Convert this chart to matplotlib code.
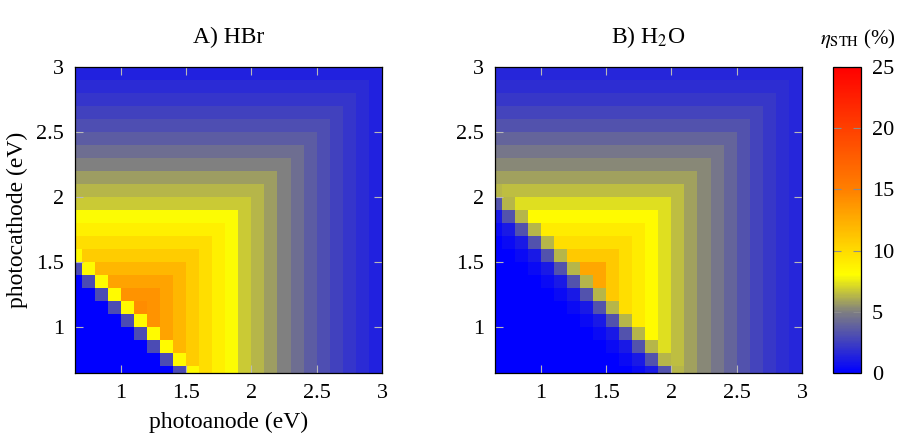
import numpy as np
import matplotlib
matplotlib.use("Agg")
import matplotlib.pyplot as plt
from matplotlib.colors import LinearSegmentedColormap, Normalize

# ---------------- data ----------------
# band-gap cell centres (eV), same for photoanode (x) and photocathode (y)
gap_ev = [0.65, 0.75, 0.85, 0.95, 1.05, 1.15, 1.25, 1.35, 1.45, 1.55, 1.65, 1.75,
          1.85, 1.95, 2.05, 2.15, 2.25, 2.35, 2.45, 2.55, 2.65, 2.75, 2.85, 2.95]

nan = np.nan
# STH efficiency (%) as a function of the larger of the two band gaps
hbr_eff_by_larger_gap = [nan, nan, nan, nan, nan, 14.3, 13.9, 13.0, 12.0, 10.8, 9.8, 8.8,
                         8.0, 6.8, 6.3, 5.7, 5.0, 4.3, 3.7, 3.1, 2.6, 2.1, 1.7, 1.3]
h2o_eff_by_larger_gap = [nan, nan, nan, nan, nan, nan, nan, nan, 12.8, 11.0, 9.8, 9.0,
                         8.3, 7.3, 6.5, 5.8, 5.2, 4.6, 4.0, 3.3, 2.7, 2.2, 1.8, 1.5]

# efficiency (%) close to the voltage threshold, by total band gap (eV)
hbr_threshold_total_gap = [2.1, 2.2]
hbr_threshold_eff = [3.0, 8.3]
hbr_full_from_total_gap = 2.3
h2o_threshold_total_gap = [2.4, 2.5, 2.6, 2.7]
h2o_threshold_eff = [0.4, 1.0, 3.3, 6.3]
h2o_full_from_total_gap = 2.8

tick_values = [1, 1.5, 2, 2.5, 3]
tick_labels = ["1", "1.5", "2", "2.5", "3"]
cbar_ticks = [0, 5, 10, 15, 20, 25]
cbar_labels = ["0", "5", "10", "15", "20", "25"]


def build_matrix(profile, thr_gaps, thr_effs, full_from):
    n = len(gap_ev)
    z = np.zeros((n, n))
    lookup = {round(g, 2): e for g, e in zip(thr_gaps, thr_effs)}
    for j, cath in enumerate(gap_ev):
        for i, anode in enumerate(gap_ev):
            total = round(anode + cath, 2)
            if total >= full_from - 1e-9:
                z[j, i] = profile[max(i, j)]
            else:
                z[j, i] = lookup.get(total, 0.0)
    return z


z_hbr = build_matrix(hbr_eff_by_larger_gap, hbr_threshold_total_gap,
                     hbr_threshold_eff, hbr_full_from_total_gap)
z_h2o = build_matrix(h2o_eff_by_larger_gap, h2o_threshold_total_gap,
                     h2o_threshold_eff, h2o_full_from_total_gap)

# ---------------- style ----------------
plt.rcParams["font.family"] = ["Liberation Serif", "DejaVu Serif"]
plt.rcParams["mathtext.fontset"] = "stix"

cmap = LinearSegmentedColormap.from_list(
    "sth", [(0.0, (0, 0, 1)), (5 / 25, (0.5, 0.5, 0.5)), (8 / 25, (1, 1, 0)),
            (15 / 25, (1, 0.5, 0)), (1.0, (1, 0, 0))])
norm = Normalize(vmin=0, vmax=25)

W, H = 902, 434
fig = plt.figure(figsize=(W / 100, H / 100), dpi=100)


def px_axes(x0, x1, y0, y1):
    return fig.add_axes([x0 / W, 1 - y1 / H, (x1 - x0) / W, (y1 - y0) / H])


ax_a = px_axes(75, 382, 67, 373)
ax_b = px_axes(495, 802, 67, 373)
cax = px_axes(833, 861, 67, 373)

mesh = None
for ax, z in [(ax_a, z_hbr), (ax_b, z_h2o)]:
    mesh = ax.pcolormesh(gap_ev, gap_ev, z, cmap=cmap, norm=norm,
                         shading="nearest", rasterized=True)
    ax.set_xlim(0.65, 3.0)
    ax.set_ylim(0.65, 3.0)
    ax.set_xticks(tick_values)
    ax.set_xticklabels(tick_labels)
    ax.set_yticks(tick_values)
    ax.set_yticklabels(tick_labels)
    ax.tick_params(direction="in", length=6, width=0.8, color="0.72",
                   top=True, right=True, labelsize=16, pad=8)
    for sp in ax.spines.values():
        sp.set_linewidth(0.9)
        sp.set_zorder(5)

ax_a.set_xlabel("photoanode (eV)", fontsize=17, labelpad=6)
ax_a.set_ylabel("photocathode (eV)", fontsize=17, labelpad=6)

fig.text(228.5 / W, 1 - 43 / H, "A) HBr", ha="center", va="baseline", fontsize=17)
fig.text(648.5 / W, 1 - 43 / H, r"B) H$_2$O", ha="center", va="baseline", fontsize=17)
fig.text(896 / W, 1 - 44 / H, r"$\eta_{\mathrm{STH}}$ (%)", ha="right",
         va="baseline", fontsize=15)

cb = fig.colorbar(mesh, cax=cax, ticks=cbar_ticks)
cb.ax.set_yticklabels(cbar_labels)
cb.ax.tick_params(direction="in", length=6, width=0.8, color="0.55",
                  left=True, right=True, labelsize=16, pad=8)
cb.outline.set_linewidth(0.9)

fig.savefig("out.png", dpi=100)
